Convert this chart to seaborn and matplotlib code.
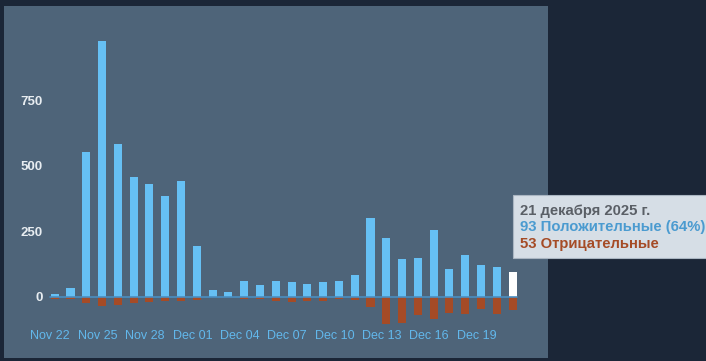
import matplotlib
matplotlib.use("Agg")
import matplotlib.pyplot as plt
import seaborn as sns
import pandas as pd
from matplotlib.patches import Rectangle

days = ["Nov 22", "Nov 23", "Nov 24", "Nov 25", "Nov 26", "Nov 27", "Nov 28", "Nov 29", "Nov 30",
        "Dec 01", "Dec 02", "Dec 03", "Dec 04", "Dec 05", "Dec 06", "Dec 07", "Dec 08", "Dec 09",
        "Dec 10", "Dec 11", "Dec 12", "Dec 13", "Dec 14", "Dec 15", "Dec 16", "Dec 17", "Dec 18",
        "Dec 19", "Dec 20", "Dec 21"]
positive = [10, 33, 552, 977, 584, 459, 431, 386, 443, 195, 24, 16, 60, 43, 59, 55, 46, 57,
            61, 82, 301, 222, 145, 147, 256, 105, 160, 120, 112, 93]
negative = [10, 11, 25, 35, 34, 25, 22, 17, 17, 12, 2, 2, 10, 11, 18, 20, 16, 18,
            8, 13, 40, 105, 103, 72, 85, 64, 66, 48, 66, 53]
tick_labels = ["Nov 22", "Nov 25", "Nov 28", "Dec 01", "Dec 04", "Dec 07", "Dec 10",
               "Dec 13", "Dec 16", "Dec 19"]
y_ticks = [0, 250, 500, 750]
tooltip_date = "21 декабря 2025 г."
tooltip_pos = "93 Положительные (64%)"
tooltip_neg = "53 Отрицательные"

BG = "#1b2637"
PANEL = "#4e6479"
BLUE = "#66c0f4"
RUST = "#a54b26"

sns.set_theme(style="white")
plt.rcParams["font.family"] = ["Liberation Sans", "DejaVu Sans"]

W, H = 706, 361
fig = plt.figure(figsize=(W / 100, H / 100), dpi=100, facecolor=BG)

# axes = panel rect
px_l, px_r, px_t, px_b = 4, 548, 6, 358
ax = fig.add_axes([px_l / W, 1 - px_b / H, (px_r - px_l) / W, (px_b - px_t) / H])
ax.set_facecolor(PANEL)

df = pd.DataFrame({"day": days, "pos": positive, "neg": [-v for v in negative]})
pal_pos = [BLUE] * (len(days) - 1) + ["#ffffff"]
sns.barplot(data=df, x="day", y="pos", hue="day", palette=pal_pos, legend=False,
            width=0.51, saturation=1, ax=ax, linewidth=0)
sns.barplot(data=df, x="day", y="neg", color=RUST, width=0.51, saturation=1, ax=ax,
            linewidth=0)

# zero line
ax.plot([-0.27, len(days) - 1 + 0.27], [0, 0], color="#4a8fc2", lw=1.2, zorder=3)

# scales: zero at 296.5 px, 3.827 units per px
upp = 3.827
zero_px = 296.5
ax.set_ylim(-(px_b - zero_px) * upp, (zero_px - px_t) * upp)
x0_px, step = 54.7, 15.79
ax.set_xlim(-(x0_px - px_l) / step, (px_r - x0_px) / step)

for s in ax.spines.values():
    s.set_visible(False)

ax.set_yticks(y_ticks)
ax.set_yticklabels([str(v) for v in y_ticks])
ax.tick_params(axis="y", length=0, pad=-(43 - px_l) * 0.72, labelsize=9.5,
               labelcolor="#e8edf1")
for t in ax.get_yticklabels():
    t.set_fontweight("bold")

tick_pos = [days.index(d) - 0.28 for d in tick_labels]
ax.set_xticks(tick_pos)
ax.set_xticklabels(tick_labels)
ax.tick_params(axis="x", length=0, pad=-(px_b - 330) * 0.72, labelsize=9,
               labelcolor="#62b8ec")
ax.set_xlabel("")
ax.set_ylabel("")

# tooltip
bx0, by0, bx1, by1 = 513, 195, 712, 258
fig.patches.append(Rectangle((bx0 / W, 1 - by1 / H), (bx1 - bx0) / W, (by1 - by0) / H,
                             transform=fig.transFigure, facecolor="#d6dee6",
                             edgecolor="#aab6c2", lw=0.8, zorder=5))
fig.text(520 / W, 1 - 210.5 / H, tooltip_date, color="#5a5f66", fontsize=10.7,
         fontweight="bold", va="center", ha="left", zorder=6)
fig.text(520 / W, 1 - 227.3 / H, tooltip_pos, color="#4b9bd0", fontsize=10.7,
         fontweight="bold", va="center", ha="left", zorder=6)
fig.text(520 / W, 1 - 244 / H, tooltip_neg, color="#a54b26", fontsize=10.7,
         fontweight="bold", va="center", ha="left", zorder=6)

fig.savefig("out.png", dpi=100, facecolor=BG)
